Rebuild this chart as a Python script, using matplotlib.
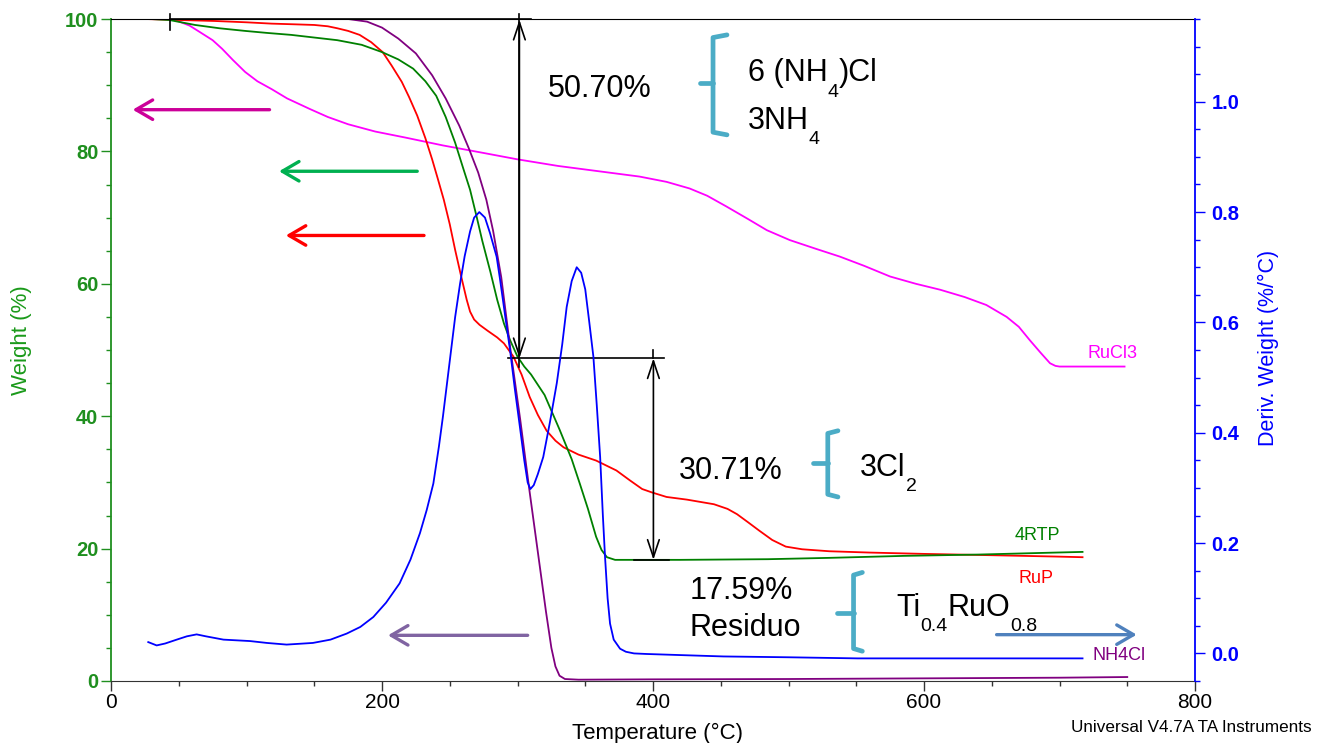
import matplotlib
matplotlib.use('Agg')
import matplotlib.pyplot as plt
from matplotlib.ticker import MultipleLocator

plt.rcParams['font.family'] = ['Liberation Sans', 'DejaVu Sans']

# ---------------- data ----------------
rucl3_T = [27, 40, 48, 58, 65, 75, 82, 90, 99, 108, 118.6, 130, 146.8, 160, 175, 195, 217,
           245, 274, 300, 330, 360, 390, 410, 427, 440, 454, 470, 484, 501, 520, 538, 556,
           575, 594, 612, 630, 646, 661, 670, 678, 686, 693, 697, 700, 710, 730, 748]
rucl3_W = [100, 100, 99.8, 99.0, 98.1, 96.8, 95.5, 93.8, 92.0, 90.6, 89.4, 88.0, 86.4, 85.2,
           84.1, 83.0, 82.1, 80.9, 79.8, 78.8, 77.8, 77.0, 76.2, 75.4, 74.4, 73.3, 71.7, 69.8,
           68.1, 66.6, 65.3, 64.1, 62.7, 61.1, 60.0, 59.1, 58.0, 56.8, 55.0, 53.5, 51.5, 49.6,
           48.0, 47.6, 47.5, 47.5, 47.5, 47.5]

rtp_T = [29, 43, 62, 80, 99, 115, 133, 150, 167, 185, 200, 212, 223, 232, 240, 247, 254, 260,
         265, 270, 274, 280, 285, 290, 294.5, 300, 305, 310, 320, 331, 340, 346, 352, 358, 362,
         366, 372, 380, 393, 420, 485, 530, 585, 640, 697, 717]
rtp_W = [100, 99.85, 99.1, 98.6, 98.2, 97.9, 97.6, 97.2, 96.8, 96.1, 95.0, 93.9, 92.5, 90.6,
         88.4, 85.2, 81.3, 77.4, 74.2, 70.0, 66.5, 61.8, 57.6, 54.0, 51.5, 49.0, 47.5, 46.3,
         43.2, 38.0, 33.5, 29.8, 26.0, 21.8, 19.8, 18.7, 18.3, 18.3, 18.3, 18.3, 18.4, 18.6,
         18.9, 19.1, 19.4, 19.5]

rup_T = [25, 50, 76.5, 100, 118.6, 135, 150, 160, 167, 175, 183.5, 192, 200.5, 207, 214.6, 220,
         226, 232, 237, 241, 245.6, 250, 254, 258, 262.5, 265, 268, 272, 278, 285, 290, 297,
         303, 309, 315, 321.5, 328, 334, 345, 358, 373, 383, 392, 399, 410, 425, 445, 455, 462,
         470, 478.5, 488, 498, 510, 530, 560, 600, 650, 697, 717]
rup_W = [100, 99.85, 99.7, 99.5, 99.3, 99.2, 99.1, 98.9, 98.6, 98.2, 97.6, 96.5, 95.0, 93.0,
         90.5, 88.2, 85.4, 82.0, 78.8, 76.0, 72.7, 69.0, 65.1, 61.5, 57.6, 55.8, 54.6, 53.8,
         52.9, 51.9, 51.0, 49.0, 46.3, 42.9, 40.2, 37.8, 36.3, 35.3, 34.2, 33.3, 31.8, 30.3,
         29.0, 28.5, 27.8, 27.4, 26.7, 26.0, 25.2, 24.0, 22.7, 21.3, 20.3, 19.9, 19.6, 19.4,
         19.2, 19.0, 18.8, 18.7]

nh4cl_T = [30, 100, 175, 189, 200, 212, 225, 237, 247, 257, 264, 271, 277, 282, 288, 294.5,
           302, 309, 316, 321, 325, 328, 331, 335, 345, 400, 500, 600, 700, 750]
nh4cl_W = [100, 100, 100, 99.6, 98.7, 97.05, 94.8, 91.5, 88.0, 83.9, 80.5, 76.8, 72.7, 68.0,
           61.0, 50.5, 39.5, 28.5, 18.0, 10.5, 5.0, 2.2, 0.8, 0.3, 0.2, 0.25, 0.3, 0.4, 0.5, 0.6]

deriv_T = [27.5, 33.7, 40, 48.5, 56, 63.2, 70, 83, 102.6, 115, 129.6, 149, 162, 174, 184, 193.6,
           203, 213, 221, 228, 233, 237.9, 242, 245, 248, 251, 254, 257.6, 261, 265, 268,
           271.8, 276, 279.7, 284.6, 287, 291, 294.5, 298, 301.8, 305, 307.5, 309.5, 312, 315,
           319, 324, 329, 333, 336.3, 340, 343.7, 347, 350, 353, 356, 358.5, 361, 363, 364.6,
           366.5, 368.3, 371, 375.7, 380, 386, 395, 420, 452, 500, 551, 600, 650, 697, 717]
deriv_D = [0.0205, 0.0145, 0.018, 0.025, 0.031, 0.0345, 0.031, 0.025, 0.0224, 0.019, 0.016,
           0.019, 0.025, 0.036, 0.048, 0.066, 0.092, 0.127, 0.17, 0.218, 0.26, 0.308, 0.375,
           0.43, 0.49, 0.55, 0.61, 0.67, 0.72, 0.765, 0.79, 0.80, 0.79, 0.762, 0.719, 0.68,
           0.61, 0.55, 0.48, 0.41, 0.35, 0.31, 0.298, 0.305, 0.325, 0.356, 0.42, 0.49, 0.56,
           0.628, 0.675, 0.70, 0.69, 0.66, 0.60, 0.538, 0.45, 0.356, 0.25, 0.175, 0.10, 0.054,
           0.025, 0.0085, 0.003, 0.0, -0.001, -0.003, -0.0055, -0.007, -0.009, -0.009, -0.009,
           -0.009, -0.009]

x_ticks = [0, 200, 400, 600, 800]
w_ticks = [0, 20, 40, 60, 80, 100]
d_ticks = [0.0, 0.2, 0.4, 0.6, 0.8, 1.0]

GREEN_AX = '#1F8F1F'
BLUE = '#0000FF'
BRACKET = '#4BACC6'

# ---------------- figure ----------------
fig = plt.figure(figsize=(13.17, 7.43), dpi=100)
ax = fig.add_axes([111/1317, 62/743, 1084/1317, 662/743])
ax2 = ax.twinx()

ax.plot(rucl3_T, rucl3_W, color='#FF00FF', lw=1.3)
ax.plot(rup_T, rup_W, color='#FF0000', lw=1.3)
ax.plot(rtp_T, rtp_W, color='#008000', lw=1.3)
ax.plot(nh4cl_T, nh4cl_W, color='#800080', lw=1.3)
ax2.plot(deriv_T, deriv_D, color=BLUE, lw=1.3)

ax.set_xlim(0, 800)
ax.set_ylim(0, 100)
ax2.set_ylim(-0.05, 1.15)

ax.set_xticks(x_ticks)
ax.set_yticks(w_ticks)
ax2.set_yticks(d_ticks)
ax.set_xticklabels([str(v) for v in x_ticks])
ax.set_yticklabels([str(v) for v in w_ticks])
ax2.set_yticklabels([f'{v:.1f}' for v in d_ticks])
ax.xaxis.set_minor_locator(MultipleLocator(50))
ax.yaxis.set_minor_locator(MultipleLocator(5))
ax2.yaxis.set_minor_locator(MultipleLocator(0.05))

ax.tick_params(axis='x', which='major', length=7, width=1, colors='#333333', labelsize=15,
               pad=2, labelcolor='black')
ax.tick_params(axis='x', which='minor', length=3.5, width=1, colors='#333333')
ax.tick_params(axis='y', which='major', length=7, width=1, colors=GREEN_AX, labelsize=14.5, pad=2)
ax.tick_params(axis='y', which='minor', length=3.5, width=1, colors=GREEN_AX)
ax2.tick_params(axis='y', which='major', length=7, width=1, colors=BLUE, labelsize=14.5, pad=5)
ax2.tick_params(axis='y', which='minor', length=3.5, width=1, colors=BLUE)
for lab in ax.get_yticklabels():
    lab.set_fontweight('bold')
for lab in ax2.get_yticklabels():
    lab.set_fontweight('bold')

ax.spines['left'].set_color(GREEN_AX)
ax.spines['left'].set_linewidth(1.3)
ax.spines['bottom'].set_color('#333333')
ax.spines['top'].set_color('black')
ax.spines['right'].set_visible(False)
for s in ['left', 'top', 'bottom']:
    ax2.spines[s].set_visible(False)
ax2.spines['right'].set_color(BLUE)
ax2.spines['right'].set_linewidth(1.3)

ax.set_ylabel('Weight (%)', color='#1A9A1A', fontsize=16)
ax.yaxis.set_label_coords((22 - 111) / 1084, 0.515)
ax.yaxis.label.set_va('center')
ax2.set_ylabel('Deriv. Weight (%/°C)', color=BLUE, fontsize=15.5)
ax2.yaxis.set_label_coords((1268 - 111) / 1084, 0.503)
ax2.yaxis.label.set_va('center')
ax.set_xlabel('Temperature (°C)', fontsize=16)
ax.xaxis.set_label_coords(0.504, -0.0785)
ax.xaxis.label.set_va('center')
fig.text(1312/1317, 1 - 728/743, 'Universal V4.7A TA Instruments', ha='right', va='center',
         fontsize=12.3)

# ---------------- annotations ----------------
blk = dict(color='black', lw=1.2)
ax.plot([43.5, 310], [100, 100], **blk, clip_on=False)
ax.plot([43.5, 43.5], [98.3, 100.8], **blk, clip_on=False)
ax.plot([301.4, 301.4], [47.5, 100.8], **blk, clip_on=False)
ax.plot([293, 408], [48.75, 48.75], **blk)
ax.plot([400.3, 400.3], [48.75, 50.0], **blk)
ax.plot([386, 412], [18.3, 18.3], **blk)
dbl = dict(arrowstyle='<->,head_length=0.9,head_width=0.3', color='black', lw=1.2,
           shrinkA=0, shrinkB=0, mutation_scale=14)
ax.annotate('', xy=(301.4, 99.9), xytext=(301.4, 48.75), arrowprops=dbl)
ax.annotate('', xy=(400.3, 48.75), xytext=(400.3, 18.3), arrowprops=dbl)


def colored_arrow(x0, x1, y, color):
    ax.annotate('', xy=(x1, y), xytext=(x0, y),
                arrowprops=dict(arrowstyle='->,head_length=0.6,head_width=0.35', color=color,
                                lw=2.4, shrinkA=0, shrinkB=0, mutation_scale=20))


colored_arrow(117, 16, 86.3, '#CC0099')
colored_arrow(226, 124, 77.0, '#00B050')
colored_arrow(231, 129, 67.3, '#FF0000')
colored_arrow(307.5, 204.4, 6.9, '#8064A2')
colored_arrow(653.6, 757, 7.0, '#4F81BD')


def bracket(x_nub, x_v, x_end, top, mid, bot):
    ax.plot([x_end, x_v, x_v, x_end], [top, top - 0.4, bot + 0.4, bot], color=BRACKET,
            lw=3.4, solid_joinstyle='round', solid_capstyle='round')
    ax.plot([x_nub, x_v], [mid, mid], color=BRACKET, lw=3.4, solid_capstyle='round')


bracket(434.7, 444.3, 454.6, 97.6, 90.3, 82.5)
bracket(518.0, 529.0, 536.5, 37.8, 32.9, 27.8)
bracket(535.8, 548.0, 554.5, 16.4, 10.3, 4.5)

renderer = fig.canvas.get_renderer()


def rich(x, y, pieces, big=22, small=14, drop=-11):
    xoff = 0.0
    for s, sub in pieces:
        t = ax.annotate(s, (x, y), xytext=(xoff, drop if sub else 0), textcoords='offset points',
                        fontsize=small if sub else big, ha='left', va='baseline', color='black')
        bb = t.get_window_extent(renderer)
        xoff += bb.width * 72.0 / fig.dpi


rich(322.5, 88.2, [('50.70%', False)])
rich(470.1, 90.6, [('6 (NH', False), ('4', True), (')Cl', False)])
rich(470.1, 83.4, [('3NH', False), ('4', True)])
rich(419.2, 30.5, [('30.71%', False)])
rich(552.8, 31.0, [('3Cl', False), ('2', True)])
rich(427.3, 12.4, [('17.59%', False)])
rich(427.3, 6.8, [('Residuo', False)])
rich(579.3, 9.8, [('Ti', False), ('0.4', True), ('RuO', False), ('0.8', True)])

lab = dict(fontsize=13, ha='left', va='baseline')
ax.text(721, 48.8, 'RuCl3', color='#FF00FF', **lab)
ax.text(667.2, 21.3, '4RTP', color='#008000', **lab)
ax.text(669.4, 14.8, 'RuP', color='#FF0000', **lab)
ax.text(724.7, 3.2, 'NH4Cl', color='#800080', **lab)

fig.savefig('out.png', dpi=100)
